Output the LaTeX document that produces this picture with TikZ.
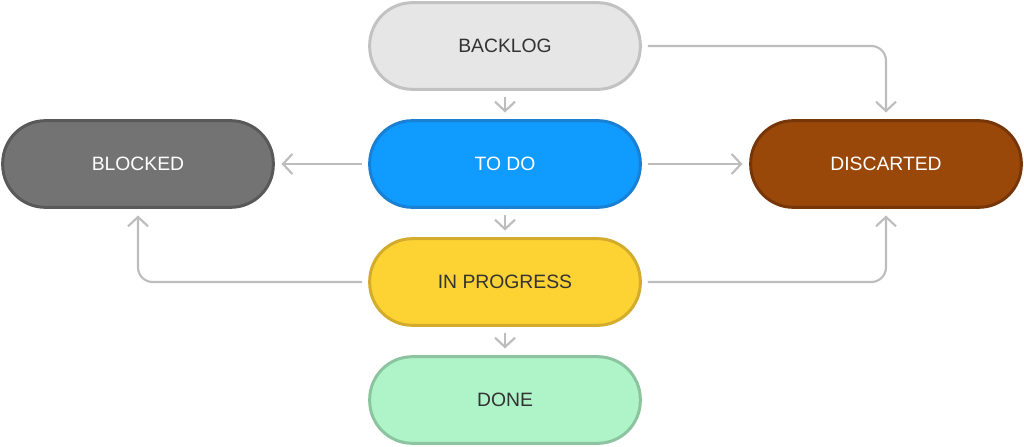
\documentclass[tikz,border=0pt]{standalone}
\usepackage{fontspec}
\setmainfont{Liberation Sans}
\usetikzlibrary{arrows.meta}
\definecolor{lnk}{HTML}{BDBDBD}
\definecolor{blFill}{HTML}{E6E6E6}\definecolor{blDraw}{HTML}{C2C2C2}
\definecolor{tdFill}{HTML}{0F9BFF}\definecolor{tdDraw}{HTML}{1A80D4}
\definecolor{bkFill}{HTML}{737373}\definecolor{bkDraw}{HTML}{595959}
\definecolor{dsFill}{HTML}{9A470A}\definecolor{dsDraw}{HTML}{773608}
\definecolor{ipFill}{HTML}{FDD233}\definecolor{ipDraw}{HTML}{D3AC2E}
\definecolor{dnFill}{HTML}{AFF3C9}\definecolor{dnDraw}{HTML}{8CC4A0}
\definecolor{darktxt}{HTML}{333333}
\begin{document}
\begin{tikzpicture}[x=0.75pt,y=-0.75pt,
  state/.style={rectangle, rounded corners=32pt, minimum width=203pt, minimum height=65pt,
    line width=2.25pt, font=\fontsize{14.5}{16}\selectfont, inner sep=0pt},
  conn/.style={draw=lnk, line width=1.6pt, rounded corners=11pt,
    -{Straight Barb[length=7pt,width=15pt,line width=1.6pt]},
    shorten <=4.5pt, shorten >=5pt}]
\useasboundingbox (0,0) rectangle (1024,446);
\node[state, fill=blFill, draw=blDraw, text=darktxt] (backlog) at (505,46) {BACKLOG};
\node[state, fill=tdFill, draw=tdDraw, text=white] (todo) at (505,164) {TO DO};
\node[state, fill=bkFill, draw=bkDraw, text=white] (blocked) at (138,164) {BLOCKED};
\node[state, fill=dsFill, draw=dsDraw, text=white] (discarted) at (886,164) {DISCARTED};
\node[state, fill=ipFill, draw=ipDraw, text=darktxt] (inprog) at (505,282) {IN PROGRESS};
\node[state, fill=dnFill, draw=dnDraw, text=darktxt] (done) at (505,400) {DONE};
\draw[conn] (backlog) -- (todo);
\draw[conn] (backlog.east) -| (discarted.north);
\draw[conn] (todo) -- (blocked);
\draw[conn] (todo) -- (discarted);
\draw[conn] (todo) -- (inprog);
\draw[conn] (inprog.west) -| (blocked.south);
\draw[conn] (inprog.east) -| (discarted.south);
\draw[conn] (inprog) -- (done);
\end{tikzpicture}
\end{document}
